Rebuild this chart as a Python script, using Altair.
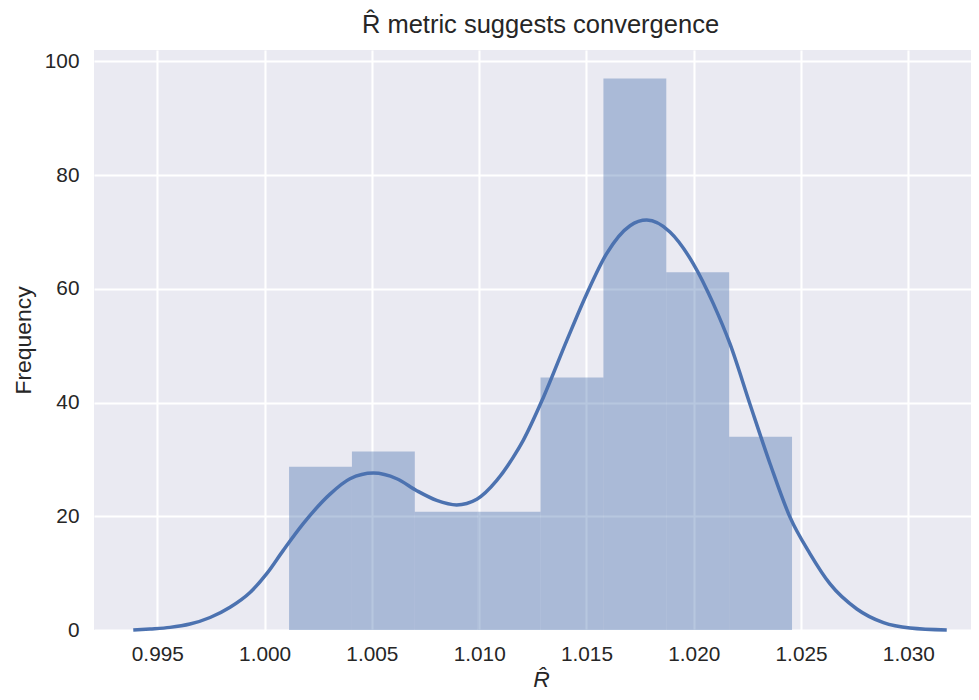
import altair as alt
import pandas as pd

# Histogram bins (density-normalised "Frequency")
bin_left = [1.00114, 1.00407, 1.00700, 1.00993, 1.01286, 1.01579, 1.01872, 1.02165]
bin_right = [1.00407, 1.00700, 1.00993, 1.01286, 1.01579, 1.01872, 1.02165, 1.02458]
bin_freq = [28.7, 31.4, 20.8, 20.8, 44.4, 97.0, 62.9, 34.0]

# KDE curve
kde_x = [0.99388, 0.99466, 0.99559, 0.99652, 0.99746, 0.99839, 0.99932, 1.00010,
         1.00087, 1.00180,
         1.00305, 1.00398, 1.00507, 1.00616, 1.00709, 1.00802, 1.00895, 1.00989,
         1.01082, 1.01159, 1.01206, 1.01299, 1.01408, 1.01501, 1.01594, 1.01703,
         1.01781, 1.01889, 1.01998, 1.02091, 1.02169, 1.02262, 1.02356, 1.02449,
         1.02542, 1.02635, 1.02760, 1.02884, 1.03008, 1.03179]
kde_y = [0.0, 0.18, 0.46, 1.05, 2.2, 4.0, 6.6, 9.9,
         14.0, 18.7,
         23.9, 26.6, 27.6, 26.6, 24.5, 22.8, 22.0, 23.0,
         26.3, 30.4, 33.4, 40.9, 50.9, 59.1, 66.2, 71.1,
         72.1, 70.0, 64.4, 57.4, 50.3, 39.7, 29.2, 19.8,
         13.4, 8.1, 3.7, 1.3, 0.35, 0.0]

x_ticks = [0.995, 1.000, 1.005, 1.010, 1.015, 1.020, 1.025, 1.030]
y_ticks = [0, 20, 40, 60, 80, 100]

hist_df = pd.DataFrame({"left": bin_left, "right": bin_right, "freq": bin_freq})
kde_df = pd.DataFrame({"x": kde_x, "y": kde_y})

TEXT = "#262626"
FONT = "Liberation Sans"

x_scale = alt.Scale(domain=[0.99205, 1.03292], nice=False, zero=False)
y_scale = alt.Scale(domain=[0, 102], nice=False)

x_axis = alt.Axis(
    values=x_ticks, format=".3f", title="R\u0302",
    titleFontStyle="italic", titleFontSize=22.9, titleFontWeight="normal",
    titleX=447, titleY=56, titleBaseline="alphabetic", titleAlign="center",
    labelFontSize=20.8, labelPadding=14.5, labelFlush=False,
    ticks=False, tickSize=0, domain=False,
    grid=True, gridColor="white", gridWidth=2.1, gridOpacity=1,
    labelColor=TEXT, titleColor=TEXT, labelFont=FONT, titleFont=FONT,
)
y_axis = alt.Axis(
    values=y_ticks, title="Frequency",
    titleFontSize=22.9, titleFontWeight="normal",
    titleX=-64, titleY=290, titleAngle=270, titleBaseline="alphabetic", titleAlign="center",
    labelFontSize=20.8, labelPadding=15, labelFlush=False,
    ticks=False, tickSize=0, domain=False,
    grid=True, gridColor="white", gridWidth=2.1, gridOpacity=1,
    labelColor=TEXT, titleColor=TEXT, labelFont=FONT, titleFont=FONT,
)

bars = alt.Chart(hist_df).mark_rect(color="#4C72B0", opacity=0.4).encode(
    x=alt.X("left:Q", scale=x_scale, axis=x_axis),
    x2="right:Q",
    y=alt.Y("freq:Q", scale=y_scale, axis=y_axis),
    y2=alt.datum(0),
)

line = alt.Chart(kde_df).mark_line(color="#4C72B0", strokeWidth=3.5, interpolate="monotone").encode(
    x=alt.X("x:Q", scale=x_scale),
    y=alt.Y("y:Q", scale=y_scale),
)

chart = alt.layer(bars, line).properties(
    width=877,
    height=580,
    padding={"left": 86, "top": 42, "right": 0, "bottom": 62},
    autosize=alt.AutoSizeParams(type="none"),
    title=alt.TitleParams(
        "R\u0302 metric suggests convergence",
        fontSize=25.5, font=FONT, fontWeight="normal", color=TEXT,
        anchor="middle", frame="group", baseline="alphabetic", offset=16, dx=8, dy=24,
    ),
).configure(background="white", font=FONT).configure_view(fill="#EAEAF2", strokeWidth=0)

chart.save("out.html", embed_options={"renderer": "svg", "actions": False})
